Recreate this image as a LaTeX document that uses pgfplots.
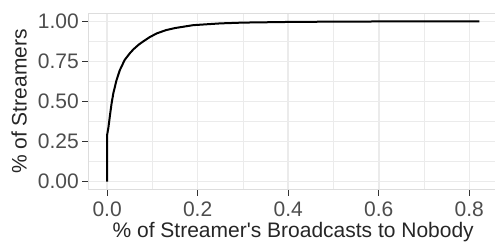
\documentclass[border=0pt]{standalone}
\usepackage{pgfplots}
\pgfplotsset{compat=1.18}
\usepackage{fontspec}
\setmainfont{Liberation Sans}[Ligatures=TeXOff]
\definecolor{gridc}{HTML}{EBEBEB}
\definecolor{borderc}{HTML}{DDDDDD}
\definecolor{tickc}{HTML}{333333}
\definecolor{labc}{HTML}{4D4D4D}
\begin{document}
\begin{tikzpicture}
\path[use as bounding box] (-88.5pt,-55.3pt) rectangle (406.5pt,189.7pt);
\begin{axis}[
  at={(0,0)}, anchor=south west,
  scale only axis, width=409.4pt, height=176.4pt,
  xmin=-0.0411, xmax=0.8631, ymin=-0.05, ymax=1.05,
  xtick={0,0.2,0.4,0.6,0.8},
  xticklabels={0.0,0.2,0.4,0.6,0.8},
  minor xtick={0.1,0.3,0.5,0.7},
  ytick={0,0.25,0.5,0.75,1},
  yticklabels={0.00,0.25,0.50,0.75,1.00},
  minor ytick={0.125,0.375,0.625,0.875},
  grid=both,
  major grid style={color=gridc, line width=1.5pt},
  minor grid style={color=gridc, line width=0.8pt},
  axis line style={color=borderc, line width=1.2pt},
  tick align=outside,
  major tick length=6pt, minor tick length=0pt,
  tick style={color=tickc, line width=1.2pt},
  xtick pos=bottom, ytick pos=left,
  ticklabel style={font=\fontsize{21}{21}\selectfont, text=labc, inner sep=0pt},
  xticklabel style={anchor=north, yshift=-6pt},
  yticklabel style={anchor=east, xshift=-3.5pt},
  xlabel={\% of Streamer's Broadcasts to Nobody},
  ylabel={\% of Streamers},
  every axis x label/.style={at={(axis description cs:0.5,0)}, yshift=-48.3pt, anchor=base, inner sep=0pt, font=\fontsize{21}{21}\selectfont, text=black!85},
  every axis y label/.style={at={(axis description cs:0,0.5)}, xshift=-61.8pt, rotate=90, anchor=base, inner sep=0pt, font=\fontsize{21}{21}\selectfont, text=black!85},
  clip=true,
]
\addplot[black, line width=2pt] coordinates {
(0,0) (0,0.29) (0.003,0.34) (0.0066,0.42) (0.01,0.49) (0.014,0.555)
(0.021,0.635) (0.028,0.695) (0.039,0.76) (0.05,0.80) (0.058,0.825)
(0.07,0.855) (0.08,0.875) (0.095,0.903) (0.11,0.925) (0.13,0.945)
(0.15,0.958) (0.19,0.976) (0.25,0.987) (0.3,0.992) (0.4,0.996)
(0.5,0.998) (0.6,0.999) (0.7,1.0) (0.822,1.0)
};
\end{axis}
\end{tikzpicture}
\end{document}
